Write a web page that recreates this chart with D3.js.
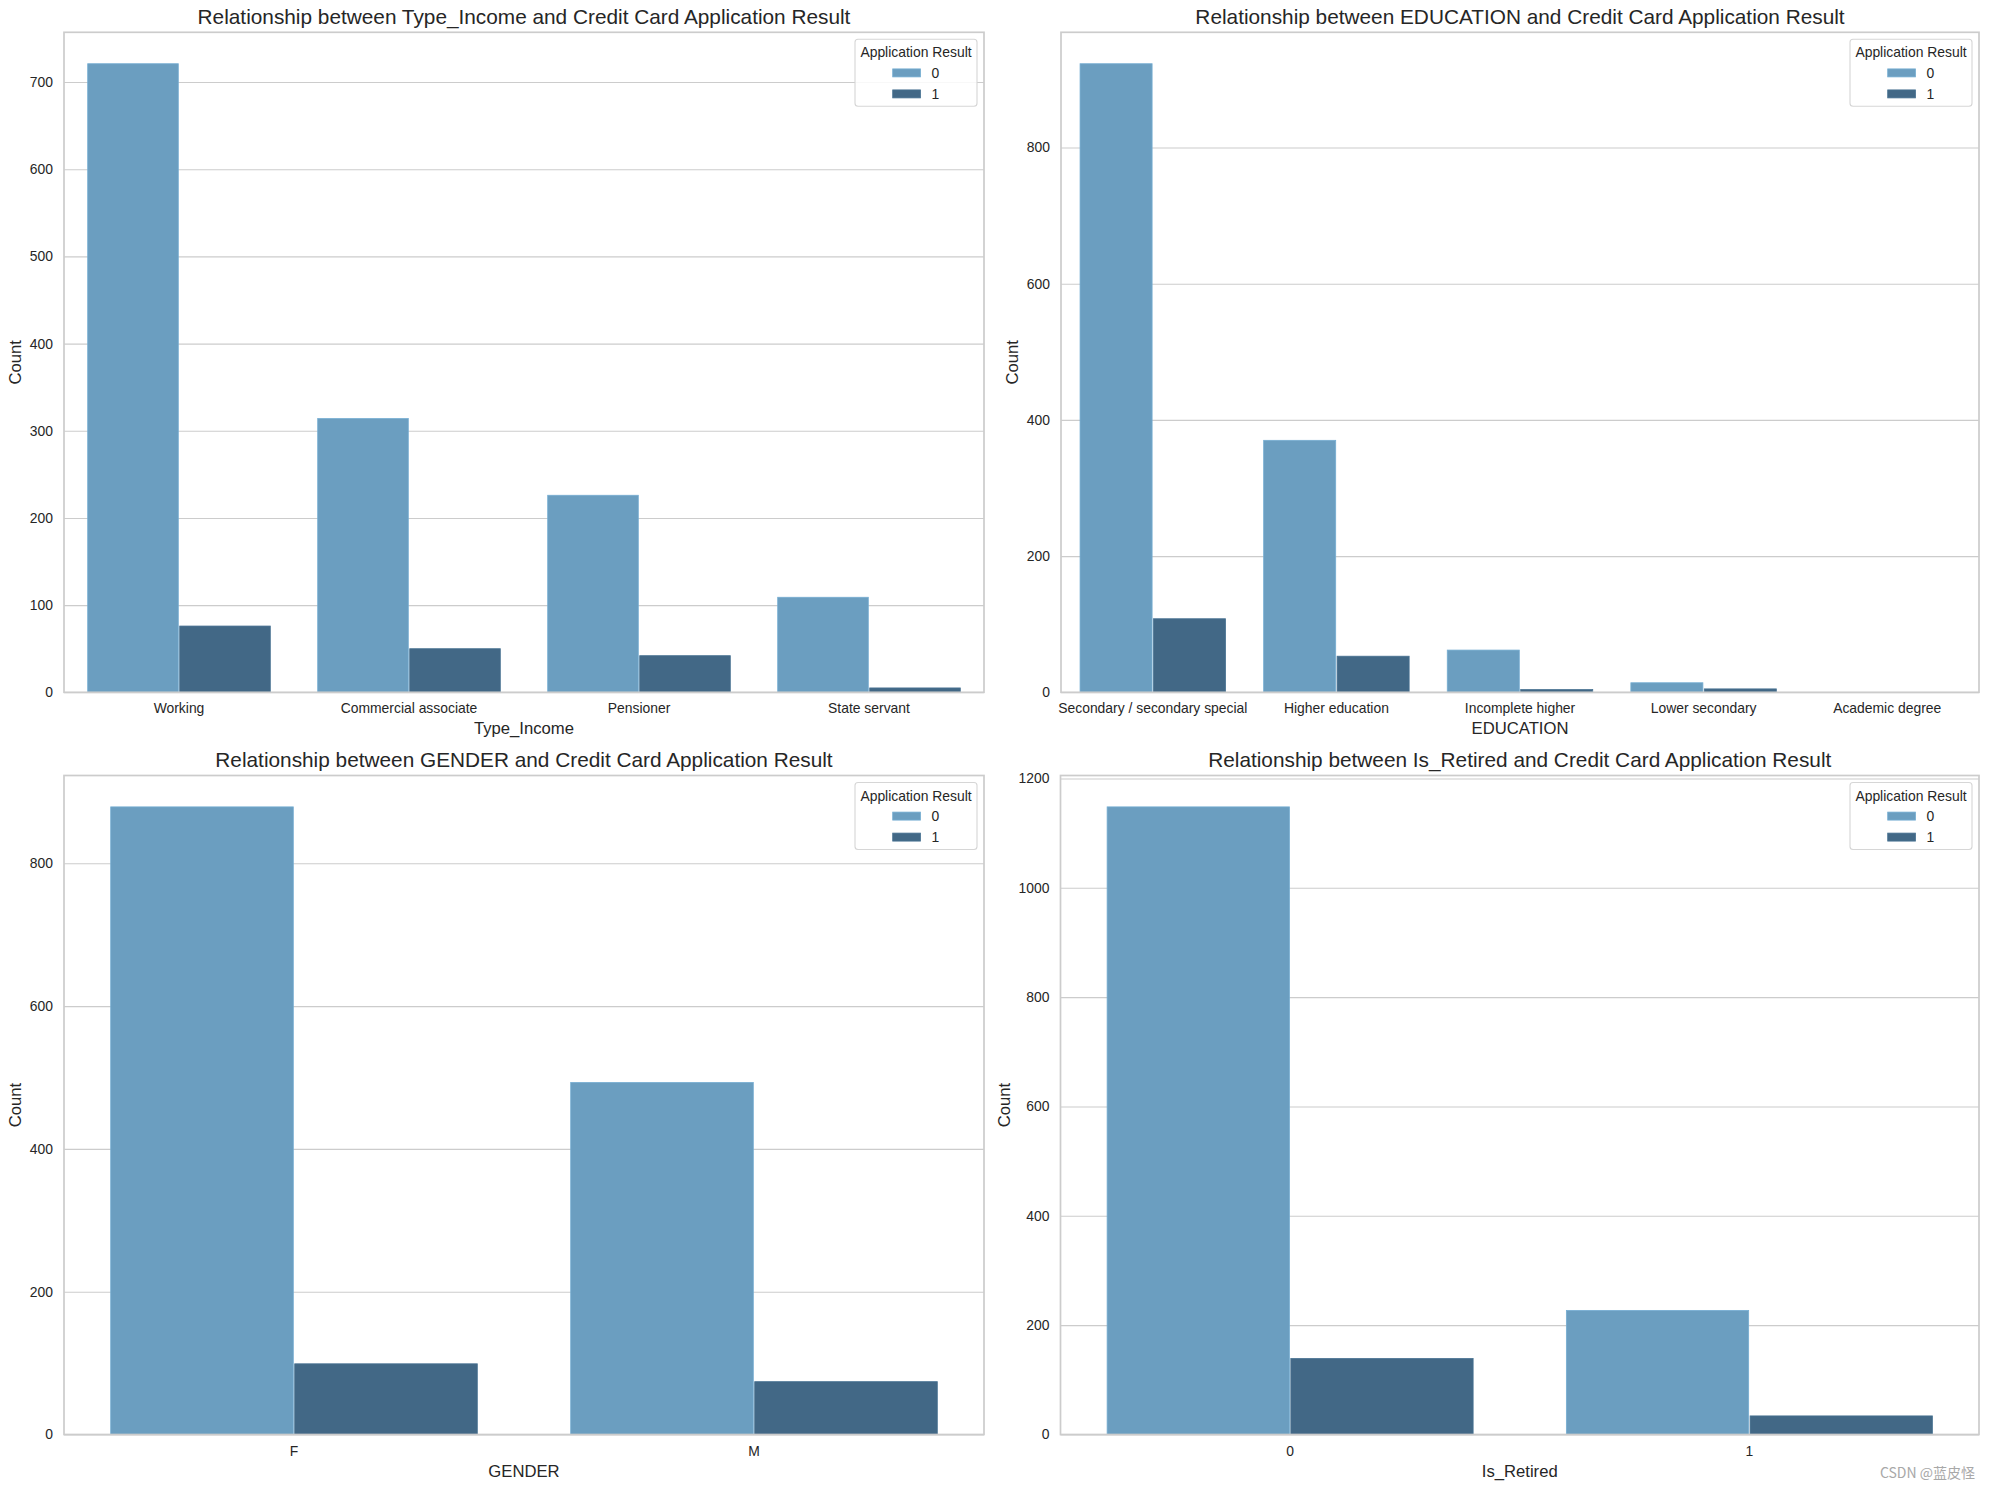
<!DOCTYPE html>
<html>
<head>
<meta charset="utf-8">
<script src="https://cdn.jsdelivr.net/npm/d3@7"></script>
<style>
  html, body { margin: 0; padding: 0; background: #fff; }
  svg { display: block; }
  text { font-family: "Liberation Sans", Arial, sans-serif; fill: #262626; }
</style>
</head>
<body>
<svg id="chart" width="1990" height="1489"></svg>
<script>
// ---------- data ----------
const hueLabels = ["0", "1"];
const hueColors = ["#6b9ec0", "#426886"];

const incomeCats = ["Working", "Commercial associate", "Pensioner", "State servant"];
const income0 = [721, 314, 226, 109];
const income1 = [76, 50, 42, 5];
const incomeTicks = [0, 100, 200, 300, 400, 500, 600, 700];

const eduCats = ["Secondary / secondary special", "Higher education", "Incomplete higher", "Lower secondary", "Academic degree"];
const edu0 = [923, 370, 62, 14, 0];
const edu1 = [108, 53, 4, 5, 0];
const eduTicks = [0, 200, 400, 600, 800];

const genderCats = ["F", "M"];
const gender0 = [879, 493];
const gender1 = [99, 74];
const genderTicks = [0, 200, 400, 600, 800];

const retiredCats = ["0", "1"];
const retired0 = [1148, 227];
const retired1 = [139, 34];
const retiredTicks = [0, 200, 400, 600, 800, 1000, 1200];

const titles = [
  "Relationship between Type_Income and Credit Card Application Result",
  "Relationship between EDUCATION and Credit Card Application Result",
  "Relationship between GENDER and Credit Card Application Result",
  "Relationship between Is_Retired and Credit Card Application Result"
];
const xLabels = ["Type_Income", "EDUCATION", "GENDER", "Is_Retired"];
const yLabel = "Count";
const legendTitle = "Application Result";
const watermark = "CSDN @蓝皮怪";

// ---------- layout ----------
const panels = [
  { cats: incomeCats, s0: income0, s1: income1, ticks: incomeTicks, box: { l: 64, r: 984, t: 32.3, b: 692.3 } },
  { cats: eduCats, s0: edu0, s1: edu1, ticks: eduTicks, box: { l: 1061, r: 1979, t: 32.3, b: 692.3 } },
  { cats: genderCats, s0: gender0, s1: gender1, ticks: genderTicks, box: { l: 64, r: 984, t: 775.5, b: 1434.5 } },
  { cats: retiredCats, s0: retired0, s1: retired1, ticks: retiredTicks, box: { l: 1060.5, r: 1979, t: 775.5, b: 1434.5 } }
];

const svg = d3.select("#chart");
const FS_TICK = 13.9, FS_LABEL = 16.67, FS_TITLE = 20.8, FS_LEG = 13.9;
const GRID = "#cccccc";

panels.forEach((p, i) => {
  const { l, r, t, b } = p.box;
  const g = svg.append("g");
  const maxV = d3.max(p.s0.concat(p.s1));
  const y = d3.scaleLinear().domain([0, maxV * 1.05]).range([b, t]);
  const x = d3.scaleBand().domain(p.cats).range([l, r]).paddingInner(0.2).paddingOuter(0.1);
  const xh = d3.scaleBand().domain(hueLabels).range([0, x.bandwidth()]);

  // grid
  const yAxis = d3.axisLeft(y).tickValues(p.ticks).tickSize(-(r - l)).tickPadding(11).tickFormat(d3.format("d"));
  const ya = g.append("g").attr("transform", `translate(${l},0)`).call(yAxis);
  ya.select(".domain").remove();
  ya.selectAll(".tick line").attr("stroke", GRID).attr("stroke-width", 1.1);
  ya.selectAll(".tick text").attr("font-size", FS_TICK).attr("fill", "#262626")
    .style("font-family", '"Liberation Sans", Arial, sans-serif');

  // bars
  const rows = p.cats.map((c, k) => ({ cat: c, vals: [p.s0[k], p.s1[k]] }));
  rows.forEach(row => {
    row.vals.forEach((v, h) => {
      if (v <= 0) return;
      const x0 = x(row.cat) + xh(hueLabels[h]);
      g.append("rect")
        .attr("x", x0 + 0.7)
        .attr("y", y(v))
        .attr("width", xh.bandwidth() - 1.4)
        .attr("height", Math.max(0, y(0) - y(v)))
        .attr("fill", hueColors[h])
        .attr("stroke", d3.color(hueColors[h]).brighter(0.25))
        .attr("stroke-width", 0.8);
    });
  });

  // spines
  g.append("rect").attr("x", l).attr("y", t).attr("width", r - l).attr("height", b - t)
    .attr("fill", "none").attr("stroke", GRID).attr("stroke-width", 1.7);

  // x axis
  const xAxis = d3.axisBottom(x).tickSize(0).tickPadding(0);
  const xa = g.append("g").attr("transform", `translate(0,${b})`).call(xAxis);
  xa.select(".domain").remove();
  xa.selectAll(".tick text").attr("font-size", FS_TICK).attr("fill", "#262626").attr("dy", null).attr("y", 21)
    .style("font-family", '"Liberation Sans", Arial, sans-serif');

  // axis labels
  g.append("text").attr("x", (l + r) / 2).attr("y", b + 42).attr("text-anchor", "middle")
    .attr("font-size", FS_LABEL).text(xLabels[i]);
  const minX = d3.min(ya.selectAll(".tick text").nodes(), n => n.getBoundingClientRect().left);
  const cx = minX - 8.5, cy = (t + b) / 2;
  g.append("text").attr("transform", `translate(${cx},${cy}) rotate(-90)`).attr("text-anchor", "middle")
    .attr("font-size", FS_LABEL).text(yLabel);

  // title
  g.append("text").attr("x", (l + r) / 2).attr("y", t - 8.8).attr("text-anchor", "middle")
    .attr("font-size", FS_TITLE).text(titles[i]);

  // legend
  const lw = 122, lh = 67;
  const lx = r - 7 - lw, ly = t + 7;
  const lg = g.append("g");
  lg.append("rect").attr("x", lx).attr("y", ly).attr("width", lw).attr("height", lh).attr("rx", 3)
    .attr("fill", "rgba(255,255,255,0.85)").attr("stroke", "#d6d6d6").attr("stroke-width", 1.1);
  lg.append("text").attr("x", lx + lw / 2).attr("y", ly + 18).attr("text-anchor", "middle")
    .attr("font-size", FS_LEG).text(legendTitle);
  const colLeft = lx + lw / 2 - 23.3;
  hueLabels.forEach((lab, h) => {
    const cyE = ly + 33.6 + h * 21;
    lg.append("rect").attr("x", colLeft).attr("y", cyE - 4).attr("width", 27.8).attr("height", 8)
      .attr("fill", hueColors[h]).attr("stroke", d3.color(hueColors[h]).brighter(0.25)).attr("stroke-width", 0.8);
    lg.append("text").attr("x", colLeft + 27.8 + 11.1).attr("y", cyE + 5)
      .attr("font-size", FS_LEG).text(lab);
  });
});

// watermark
svg.append("text").attr("x", 1975).attr("y", 1478).attr("text-anchor", "end")
  .attr("font-size", 14).style("font-family", '"Noto Sans CJK SC", "Liberation Sans", sans-serif')
  .style("fill", "#a8a8a8").text(watermark);
</script>
</body>
</html>
